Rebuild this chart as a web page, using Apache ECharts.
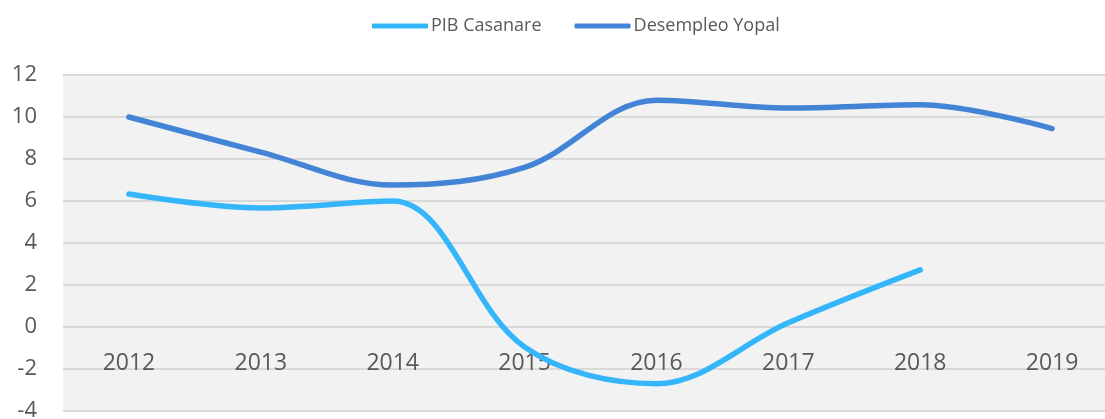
<!DOCTYPE html>
<html>
<head>
<meta charset="utf-8">
<script src="https://cdn.jsdelivr.net/npm/echarts@6/dist/echarts.min.js"></script>
<style>
  html, body { margin: 0; padding: 0; background: #fff; }
  #chart { width: 1105px; height: 419px; }
</style>
</head>
<body>
<div id="chart"></div>
<script>
// datos
const years = ['2012', '2013', '2014', '2015', '2016', '2017', '2018', '2019'];
const pibCasanare = [6.33, 5.67, 6.0, -0.95, -2.7, 0.2, 2.72, null];
const desempleoYopal = [10.0, 8.33, 6.76, 7.6, 10.8, 10.43, 10.58, 9.45];
const yTicks = { min: -4, max: 12, step: 2 };

const myChart = echarts.init(document.getElementById('chart'));
const fontName = '"Open Sans", sans-serif';

myChart.setOption({
  animation: false,
  legend: {
    top: 12,
    left: 367,
    icon: 'roundRect',
    itemWidth: 56,
    itemHeight: 5,
    itemGap: 33,
    textStyle: { fontFamily: fontName, fontSize: 18, color: '#595959', padding: [0, 0, 0, -2] },
    data: ['PIB Casanare', 'Desempleo Yopal']
  },
  grid: { left: 63, top: 75, width: 1055, bottom: 8, outerBoundsMode: 'none', containLabel: false },
  xAxis: {
    type: 'category',
    data: years,
    boundaryGap: true,
    position: 'bottom',
    offset: -84, // eje a la altura del 0
    axisLine: { show: false, onZero: false },
    axisTick: { show: false },
    axisLabel: { margin: 25, fontFamily: fontName, fontSize: 23, color: '#595959' }
  },
  yAxis: {
    type: 'value',
    min: yTicks.min,
    max: yTicks.max,
    interval: yTicks.step,
    axisLine: { show: false },
    axisTick: { show: false },
    axisLabel: { margin: 26, fontFamily: fontName, fontSize: 22, color: '#595959' },
    splitLine: { lineStyle: { color: '#D9D9D9', width: 2 } },
    splitArea: { show: true, areaStyle: { color: ['#F2F2F2'] } }
  },
  series: [
    {
      name: 'PIB Casanare',
      type: 'line',
      data: pibCasanare,
      smooth: 0.35,
      showSymbol: false,
      symbol: 'none',
      itemStyle: { color: '#35B6FB' },
      lineStyle: { width: 5.5, cap: 'round' }
    },
    {
      name: 'Desempleo Yopal',
      type: 'line',
      data: desempleoYopal,
      smooth: 0.35,
      showSymbol: false,
      symbol: 'none',
      itemStyle: { color: '#4384D6' },
      lineStyle: { width: 5.5, cap: 'round' }
    }
  ]
});
</script>
</body>
</html>
